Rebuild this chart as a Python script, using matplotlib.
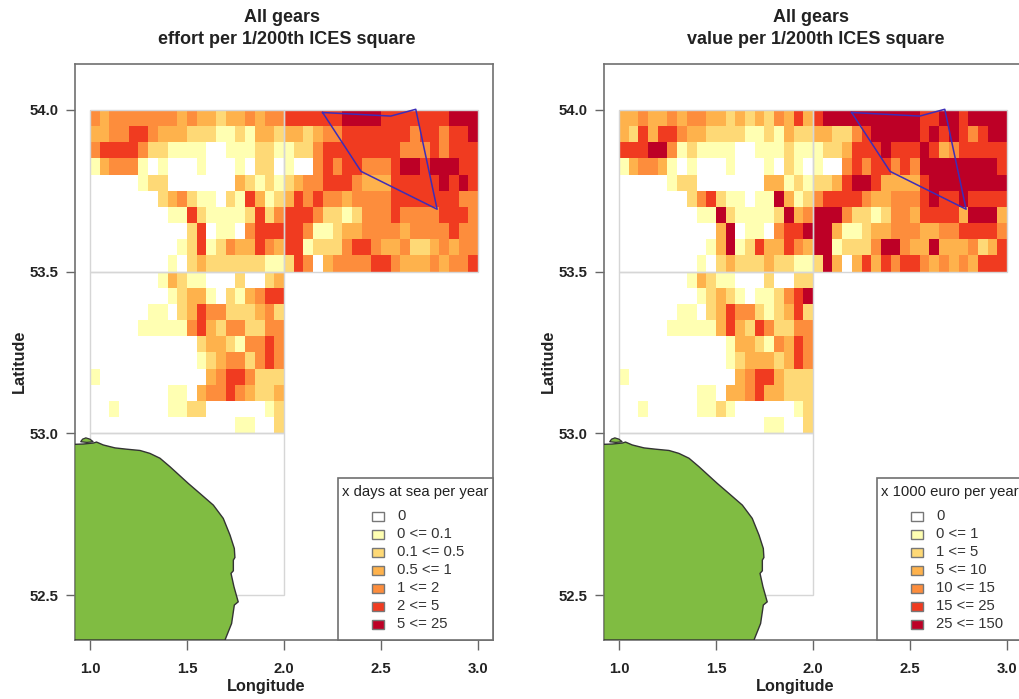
#!/usr/bin/env python
import numpy as np
import matplotlib
matplotlib.use('Agg')
import matplotlib.pyplot as plt
from matplotlib.colors import ListedColormap
from matplotlib.patches import Rectangle, Polygon

plt.rcParams['font.family'] = ['Liberation Sans', 'DejaVu Sans']

# class of each cell, rows from north to south, columns from west to east
effort_nw = ["4344444443 4332334344", "3344554333 2221121332", "4555542211 1100111221",
             "1344410100 0100010220", "0000012200 0000032121", "0000000234 2110215312",
             "0000000011 5211112524", "0000000000 2501104555", "0000000001 2512433543",
             "0000000010 2322222211"]
effort_sw = ["0000000132 1100020023", "0000000012 3310213455", "0000001102 3544222342",
             "0000011111 4532442244", "0000000000 0233214454", "0000000000 0123442454",
             "1000000000 0034554222", "0000000011 0344543223", "0010000011 2200000012",
             "0000000000 0000011002"]
effort_ne = ["5555556666 5555555666", "3323445555 5554554556", "1224555555 5544454555",
             "1004545544 4566566655", "2344555433 3555556565", "3545443444 4555555544",
             "5554221244 4544445554", "5541123344 4434444544", "5512224554 3342234344",
             "2540344445 5433343445"]
value_nw = ["3343343443 3232324353", "3253554332 2221121322", "5556641211 1100111211",
            "1344310100 0100010210", "0000012200 0000033121", "0000000245 2110116312",
            "0000000011 6211112634", "0000000000 3601104556", "0000000001 3612533543",
            "0000000010 2322232211"]
value_sw = ["0000000132 1100020022", "0000000012 3210112456", "0000001102 3544212352",
            "0000011111 3532542244", "0000000000 0133214354", "0000000000 0123332354",
            "1000000000 0034553222", "0000000011 0334533222", "0010000011 2100000012",
            "0000000000 0000011002"]
value_ne = ["5666666666 6556656666", "3322456666 6565654566", "1223555655 5653455555",
            "1004545545 4666666665", "2235665333 3566666666", "4555543344 4565565555",
            "6664221244 3555536663", "6631123344 4334455554", "6612224664 3363334235",
            "2630353545 5434343555"]

colours = ['#FFFFFF', '#FFFFB2', '#FED976', '#FEB24C', '#FD8D3C', '#F03B20', '#BD0026']
effort_labels = ['0', '0 <= 0.1', '0.1 <= 0.5', '0.5 <= 1', '1 <= 2', '2 <= 5', '5 <= 25']
value_labels = ['0', '0 <= 1', '1 <= 5', '5 <= 10', '10 <= 15', '15 <= 25', '25 <= 150']

coast_lon = [0.921, 0.9655, 1.017, 1.034, 1.069, 1.129, 1.189, 1.258, 1.309, 1.361, 1.412, 1.507,
             1.567, 1.636, 1.687, 1.722, 1.744, 1.747, 1.739, 1.739, 1.727, 1.742, 1.764, 1.744,
             1.730, 1.696, 0.921]
coast_lat = [52.966, 52.967, 52.970, 52.973, 52.964, 52.955, 52.951, 52.947, 52.938, 52.923, 52.897, 52.845,
             52.814, 52.778, 52.737, 52.685, 52.644, 52.616, 52.608, 52.575, 52.567, 52.526, 52.479, 52.469,
             52.412, 52.361, 52.361]
spit_lon = [0.952, 0.962, 0.979, 1.0, 1.017, 0.985]
spit_lat = [52.974, 52.982, 52.986, 52.982, 52.974, 52.972]
area_lon = [2.199, 2.55, 2.679, 2.789, 2.397, 2.199]
area_lat = [53.992, 53.981, 54.002, 53.693, 53.81, 53.992]
squares = [(1, 53.5), (2, 53.5), (1, 53.0), (1, 52.5)]

W, H = 1019, 699
cmap = ListedColormap(colours)


def draw_block(ax, rows, lon0, lat_top):
    grid = np.array([[int(c) for c in r.replace(' ', '')] for r in rows])
    lons = lon0 + np.arange(21) * 0.05
    lats = lat_top - np.arange(11) * 0.05
    ax.pcolormesh(lons, lats, grid, cmap=cmap, vmin=-0.5, vmax=6.5, zorder=1)


def panel(left, blocks, title, header, labels, box_left):
    ax = fig.add_axes([left / W, 1 - 640 / H, 418 / W, 576 / H])
    draw_block(ax, blocks[0], 1, 54.0)
    draw_block(ax, blocks[1], 1, 53.5)
    draw_block(ax, blocks[2], 2, 54.0)
    for x, y in squares:
        ax.add_patch(Rectangle((x, y), 1, 0.5, fill=False, ec='#d6d6d6', lw=1, zorder=2))
    ax.add_patch(Polygon(np.column_stack([coast_lon, coast_lat]), fc='#80BC42', ec='#333333', lw=1, zorder=3))
    ax.add_patch(Polygon(np.column_stack([spit_lon, spit_lat]), fc='#80BC42', ec='#333333', lw=0.9, zorder=3))
    ax.plot(area_lon, area_lat, color='#3D2DB8', lw=1.1, zorder=4)
    ax.set_xlim(0.923, 3.077)
    ax.set_ylim(52.361, 54.142)
    ax.set_xticks([1, 1.5, 2, 2.5, 3], ['1.0', '1.5', '2.0', '2.5', '3.0'], fontweight='bold', fontsize=10.7,
                  color='#222222')
    ax.set_yticks([52.5, 53, 53.5, 54], ['52.5', '53.0', '53.5', '54.0'], fontweight='bold', fontsize=10.7,
                  color='#222222')
    ax.tick_params(axis='x', length=7, width=1, color='#666666', pad=8.5)
    ax.tick_params(axis='y', length=6.5, width=1, color='#666666', pad=5.5)
    for s in ax.spines.values():
        s.set_color('#707070')
        s.set_linewidth(1.2)

    # legend box, placed in pixels of the axes
    bx = (box_left - left) / 418
    ax.add_patch(Rectangle((bx, 0), 1.0 - bx, 162 / 576, transform=ax.transAxes, fc='white',
                           ec='#707070', lw=1.2, zorder=5, clip_on=False))
    ax.text(bx + 4 / 418, 148 / 576, header, transform=ax.transAxes, fontsize=10.7, color='#222222',
            va='center', zorder=6, clip_on=True)
    sq_x = bx + 34 / 418
    for i, lab in enumerate(labels):
        yy = (124 - 18 * i) / 576
        ax.add_patch(Rectangle((sq_x, yy - 4.5 / 576), 12 / 418, 9 / 576, transform=ax.transAxes,
                               fc=colours[i], ec='#777777', lw=1, zorder=6))
        ax.text(bx + 59 / 418, yy, lab, transform=ax.transAxes, fontsize=10.7, color='#333333',
                va='center', zorder=6)

    for line, py, dx in zip(title, [17, 39], [207, 211.5]):
        fig.text((left + dx) / W, 1 - py / H, line, ha='center', va='center', fontweight='bold',
                 fontsize=12.95, color='#222222')
    fig.text((left + 191) / W, 1 - 687 / H, 'Longitude', ha='center', va='center', fontweight='bold',
             fontsize=11.7, color='#222222')
    fig.text((left - 56) / W, 1 - 361 / H, 'Latitude', ha='center', va='center', rotation=90,
             fontweight='bold', fontsize=11.7, color='#222222')
    return ax


fig = plt.figure(figsize=(W / 100, H / 100), dpi=100)
panel(75, [effort_nw, effort_sw, effort_ne], ['All gears', 'effort per 1/200th ICES square'],
      'x days at sea per year', effort_labels, 338)
panel(604, [value_nw, value_sw, value_ne], ['All gears', 'value per 1/200th ICES square'],
      'x 1000 euro per year', value_labels, 877)
fig.savefig('out.png', dpi=100)
